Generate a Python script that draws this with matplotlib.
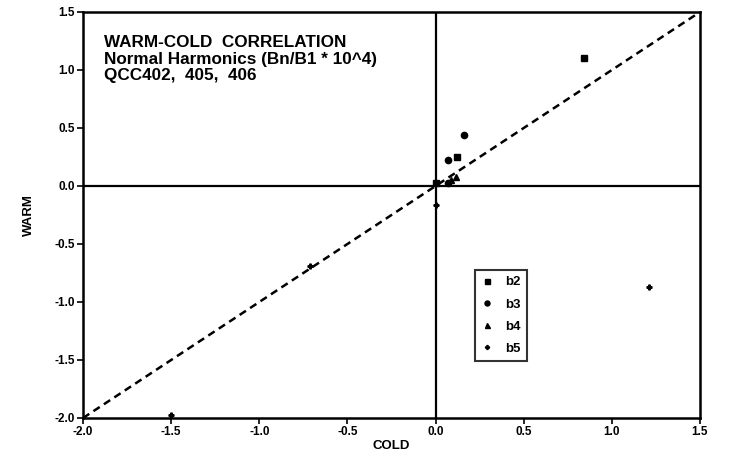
import matplotlib
matplotlib.use("Agg")
import matplotlib.pyplot as plt
import numpy as np

plt.rcParams['font.family'] = ['Liberation Sans', 'DejaVu Sans']
plt.rcParams['font.weight'] = 'bold'

b2_cold = [0.84, 0.12, 0.00]
b2_warm = [1.10, 0.25, 0.03]
b3_cold = [0.16, 0.07, 0.07]
b3_warm = [0.44, 0.22, 0.03]
b4_cold = [0.115, 0.09]
b4_warm = [0.08, 0.05]
b5_cold = [-1.50, -0.71, 1.21, 0.00]
b5_warm = [-1.97, -0.69, -0.87, -0.16]

ticks = [-2.0, -1.5, -1.0, -0.5, 0.0, 0.5, 1.0, 1.5]
tick_labels = ['-2.0', '-1.5', '-1.0', '-0.5', '0.0', '0.5', '1.0', '1.5']

fig = plt.figure(figsize=(7.30, 4.53), dpi=100)
ax = fig.add_axes([83/730, 1 - 418/453, (700-83)/730, (418-12)/453])

ax.set_xlim(-2.0, 1.5)
ax.set_ylim(-2.0, 1.5)

ax.plot([-2.0, 1.5], [-2.0, 1.5], color='black', lw=1.8, ls=(0, (3, 2)))
ax.axhline(0, color='black', lw=1.6)
ax.axvline(0, color='black', lw=1.6)

ax.plot(b2_cold, b2_warm, ls='none', marker='s', ms=4.5, color='black', label='b2')
ax.plot(b3_cold, b3_warm, ls='none', marker='o', ms=4.5, color='black', label='b3')
ax.plot(b4_cold, b4_warm, ls='none', marker='^', ms=4.5, color='black', label='b4')
ax.plot(b5_cold, b5_warm, ls='none', marker='P', ms=3.5, color='black', label='b5')

ax.set_xticks(ticks)
ax.set_xticklabels(tick_labels)
ax.set_yticks(ticks)
ax.set_yticklabels(tick_labels)
ax.tick_params(direction='out', length=4, width=1.2, labelsize=8.5, pad=2)
for lab in ax.get_xticklabels() + ax.get_yticklabels():
    lab.set_fontweight('bold')
for s in ax.spines.values():
    s.set_linewidth(1.8)

ax.set_xlabel('COLD', fontsize=9.5, fontweight='bold', labelpad=1)
ax.set_ylabel('WARM', fontsize=9.5, fontweight='bold', labelpad=14)

ax.text(0.034, 0.915, 'WARM-COLD  CORRELATION', transform=ax.transAxes,
        fontsize=12.3, fontweight='bold', va='baseline')
ax.text(0.034, 0.873, 'Normal Harmonics (Bn/B1 * 10^4)', transform=ax.transAxes,
        fontsize=12.3, fontweight='bold', va='baseline')
ax.text(0.034, 0.833, 'QCC402,  405,  406', transform=ax.transAxes,
        fontsize=12.3, fontweight='bold', va='baseline')

leg = ax.legend(loc='upper left', bbox_to_anchor=((468-83)/617, (418-263)/406),
                frameon=True, fancybox=False, edgecolor='black', fontsize=9.5,
                handlelength=0.9, handletextpad=0.9, labelspacing=0.75,
                borderpad=0.5, markerscale=0.8)
leg.get_frame().set_linewidth(1.5)
for t in leg.get_texts():
    t.set_fontweight('bold')

fig.savefig('out.png', dpi=100)
